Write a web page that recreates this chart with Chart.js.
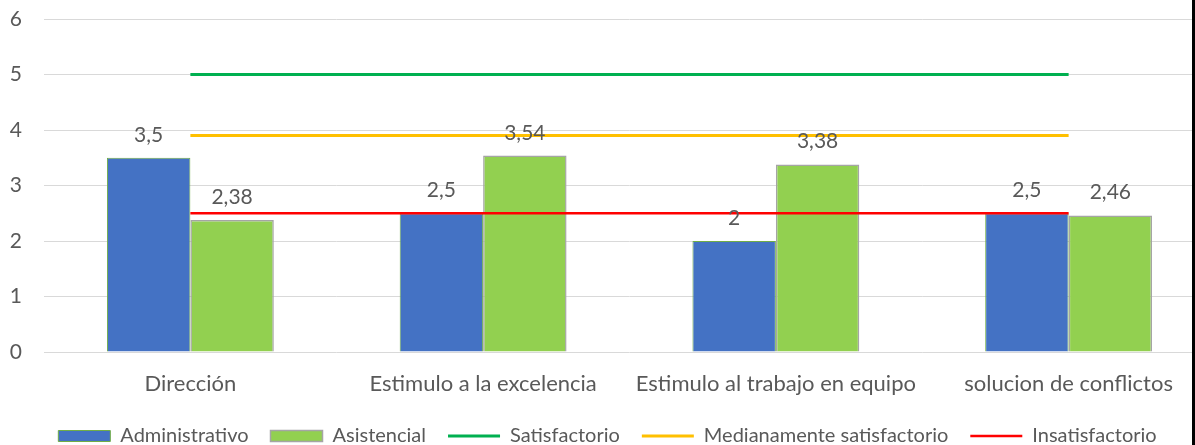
<!DOCTYPE html>
<html>
<head>
<meta charset="utf-8">
<script src="https://cdn.jsdelivr.net/npm/chart.js@4/dist/chart.umd.min.js"></script>
<style>
  html, body { margin: 0; padding: 0; background: #fff; overflow: hidden; }
  #wrap { position: relative; width: 1192px; height: 445px; overflow: hidden; }
  #edge { position: absolute; left: 1192px; top: 0; width: 3px; height: 445px; background: #000; }
</style>
</head>
<body>
<div id="wrap"><canvas id="barChart" width="1216" height="456"></canvas></div>
<div id="edge"></div>
<script>
// Categorias y valores
var categories = ["Dirección", "Estimulo a la excelencia", "Estimulo al trabajo en equipo", "solucion de conflictos"];
var administrativo = [3.5, 2.5, 2, 2.5];
var asistencial = [2.38, 3.54, 3.38, 2.46];
var satisfactorio = [5, 5, 5, 5];
var medianamente = [3.9, 3.9, 3.9, 3.9];
var insatisfactorio = [2.5, 2.5, 2.5, 2.5];
var yTicks = [0, 1, 2, 3, 4, 5, 6];

var fontFamily = "Lato, 'Open Sans', sans-serif";
var textColor = "#595959";

// Plugin sederhana untuk menulis nilai di atas batang
var barLabels = {
  id: "barLabels",
  afterDatasetsDraw: function (chart) {
    var ctx = chart.ctx;
    ctx.save();
    ctx.font = "21px " + fontFamily;
    ctx.fillStyle = textColor;
    ctx.textAlign = "center";
    ctx.textBaseline = "alphabetic";
    chart.data.datasets.forEach(function (ds, i) {
      if (ds.type !== "bar") return;
      chart.getDatasetMeta(i).data.forEach(function (bar, j) {
        var txt = String(ds.data[j]).replace(".", ",");
        ctx.fillText(txt, bar.x, bar.y - 16);
      });
    });
    ctx.restore();
  },
};

const ctxBar = document.getElementById("barChart").getContext("2d");
var chart = new Chart(ctxBar, {
  data: {
    labels: categories,
    datasets: [
      {
        type: "bar",
        label: "Administrativo",
        data: administrativo,
        backgroundColor: "#4472C4",
        borderColor: "#70AD47",
        borderWidth: 1,
        pointStyle: "rect",
        order: 2,
      },
      {
        type: "bar",
        label: "Asistencial",
        data: asistencial,
        backgroundColor: "#92D050",
        borderColor: "#A5A5A5",
        borderWidth: 1.5,
        pointStyle: "rect",
        order: 2,
      },
      {
        type: "line",
        label: "Satisfactorio",
        data: satisfactorio,
        borderColor: "#00B050",
        backgroundColor: "#00B050",
        borderWidth: 3,
        pointRadius: 0,
        pointStyle: "line",
        order: 1,
      },
      {
        type: "line",
        label: "Medianamente satisfactorio",
        data: medianamente,
        borderColor: "#FFC000",
        backgroundColor: "#FFC000",
        borderWidth: 3,
        pointRadius: 0,
        pointStyle: "line",
        order: 1,
      },
      {
        type: "line",
        label: "Insatisfactorio",
        data: insatisfactorio,
        borderColor: "#FF0000",
        backgroundColor: "#FF0000",
        borderWidth: 2.5,
        pointRadius: 0,
        pointStyle: "line",
        order: 1,
      },
    ],
  },
  options: {
    responsive: false,
    animation: false,
    layout: { padding: { top: 19, left: 0, right: 1, bottom: 0 } },
    datasets: {
      bar: { categoryPercentage: 0.57, barPercentage: 1 },
    },
    scales: {
      x: {
        offset: true,
        afterFit: function (scale) {
          scale.height = 52;
          scale.paddingTop = 0;
        },
        grid: { display: false, drawTicks: false },
        border: { display: false },
        ticks: {
          color: textColor,
          padding: 19,
          maxRotation: 0,
          font: { family: fontFamily, size: 22 },
        },
      },
      y: {
        min: 0,
        max: 6,
        afterBuildTicks: function (scale) {
          scale.ticks = yTicks.map(function (v) { return { value: v }; });
        },
        afterFit: function (scale) {
          scale.width = 44;
          scale.paddingTop = 0;
          scale.paddingBottom = 0;
        },
        grid: { color: "#D9D9D9", lineWidth: 1, drawTicks: false },
        border: { display: false },
        ticks: {
          color: textColor,
          padding: 22,
          font: { family: fontFamily, size: 21 },
        },
      },
    },
    plugins: {
      tooltip: { enabled: false },
      legend: {
        position: "bottom",
        labels: {
          usePointStyle: true,
          pointStyleWidth: 52,
          boxHeight: 11,
          padding: 22,
          color: textColor,
          font: { family: fontFamily, size: 20 },
          sort: function (a, b) {
            return a.datasetIndex - b.datasetIndex;
          },
        },
      },
    },
  },
  plugins: [barLabels],
});
</script>
</body>
</html>
